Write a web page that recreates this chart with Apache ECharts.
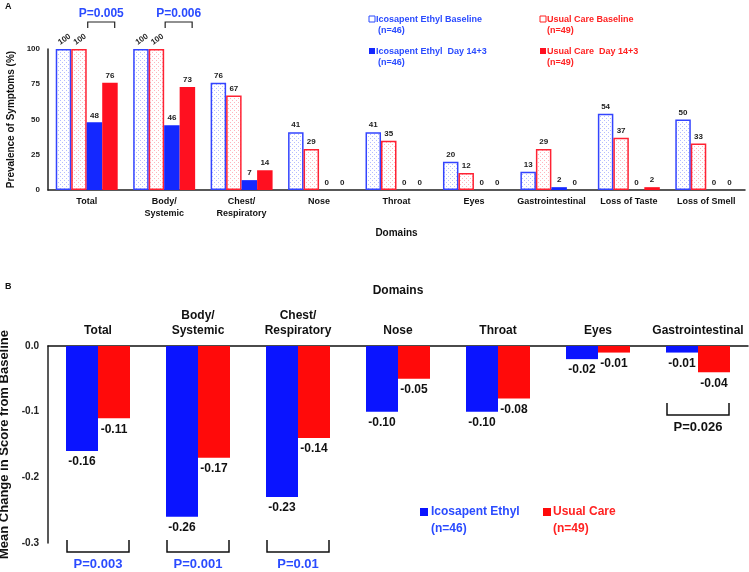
<!DOCTYPE html>
<html>
<head>
<meta charset="utf-8">
<script src="https://cdn.jsdelivr.net/npm/echarts@6/dist/echarts.min.js"></script>
<style>
  html, body { margin: 0; padding: 0; background: #fff; }
  #main { width: 749px; height: 572px; }
</style>
</head>
<body>
<div id="main"></div>
<script>
// panel A: prevalence of symptoms
const categoriesA = ['Total', 'Body/\nSystemic', 'Chest/\nRespiratory', 'Nose', 'Throat', 'Eyes', 'Gastrointestinal', 'Loss of Taste', 'Loss of Smell'];
const ieBaseline = [100, 100, 76, 41, 41, 20, 13, 54, 50];
const ucBaseline = [100, 100, 67, 29, 35, 12, 29, 37, 33];
const ieDay14 = [48, 46, 7, 0, 0, 0, 2, 0, 0];
const ucDay14 = [76, 73, 14, 0, 0, 0, 0, 2, 0];
const pValuesA = [{cat: 0, text: 'P=0.005'}, {cat: 1, text: 'P=0.006'}];

// panel B: mean change in score
const categoriesB = ['Total', 'Body/\nSystemic', 'Chest/\nRespiratory', 'Nose', 'Throat', 'Eyes', 'Gastrointestinal'];
const ieChange = [-0.16, -0.26, -0.23, -0.10, -0.10, -0.02, -0.01];
const ucChange = [-0.11, -0.17, -0.14, -0.05, -0.08, -0.01, -0.04];
const pValuesB = [
    {cat: 0, text: 'P=0.003', color: '#2a4bff', low: true},
    {cat: 1, text: 'P=0.001', color: '#2a4bff', low: true},
    {cat: 2, text: 'P=0.01', color: '#2a4bff', low: true},
    {cat: 6, text: 'P=0.026', color: '#111', low: false}
];

const FONT = '"Liberation Sans", Arial, sans-serif';
const BLUE = '#1428ff';
const RED = '#ff1020';
const TXT_BLUE = '#2a4bff';
const TXT_RED = '#ff2222';

// dotted fill for the baseline bars
function dots(color) {
    const c = document.createElement('canvas');
    c.width = 4; c.height = 4;
    const ctx = c.getContext('2d');
    ctx.fillStyle = '#fff';
    ctx.fillRect(0, 0, 4, 4);
    ctx.fillStyle = color;
    ctx.fillRect(0, 0, 1, 1);
    ctx.fillRect(2, 2, 1, 1);
    return {image: c, repeat: 'repeat'};
}

function withRotated(arr) {
    return arr.map(function (v) {
        if (v === 100) return {value: v, label: {rotate: 35, distance: 4, offset: [4, 0]}};
        return v;
    });
}

const labelA = {show: true, position: 'top', distance: 3, fontSize: 8, fontWeight: 'bold', color: '#222', fontFamily: FONT};
const labelB = {show: true, position: 'bottom', distance: 5, fontSize: 12, fontWeight: 'bold', color: '#111', fontFamily: FONT,
    formatter: function (p) { return p.value.toFixed(2); }};

const chart = echarts.init(document.getElementById('main'));

const option = {
    animation: false,
    backgroundColor: '#fff',
    textStyle: {fontFamily: FONT},
    grid: [
        {left: 48, right: 4, top: 49, height: 141, containLabel: false, outerBoundsMode: 'none'},
        {left: 48, right: 1, top: 346, height: 197, containLabel: false, outerBoundsMode: 'none'}
    ],
    xAxis: [
        {
            type: 'category', gridIndex: 0, data: categoriesA,
            axisLine: {lineStyle: {color: '#222', width: 1.5}},
            axisTick: {show: false},
            axisLabel: {color: '#111', fontSize: 9, fontWeight: 'bold', margin: 6, lineHeight: 12, interval: 0},
            name: 'Domains', nameLocation: 'middle', nameGap: 38,
            nameTextStyle: {fontSize: 10, fontWeight: 'bold', color: '#111'}
        },
        {
            type: 'category', gridIndex: 1, data: categoriesB, position: 'top',
            axisLine: {lineStyle: {color: '#111', width: 1.5}},
            axisTick: {show: false},
            axisLabel: {color: '#111', fontSize: 12, fontWeight: 'bold', margin: 8, lineHeight: 15, interval: 0},
            name: 'Domains', nameLocation: 'middle', nameGap: 49,
            nameTextStyle: {fontSize: 12, fontWeight: 'bold', color: '#111'}
        }
    ],
    yAxis: [
        {
            type: 'value', gridIndex: 0, min: 0, max: 100, interval: 25,
            splitLine: {show: false},
            axisLine: {show: true, lineStyle: {color: '#222', width: 1.5}},
            axisTick: {show: false},
            axisLabel: {color: '#222', fontSize: 8, fontWeight: 'bold', margin: 8},
            name: 'Prevalence of Symptoms (%)', nameLocation: 'middle', nameGap: 32,
            nameTextStyle: {fontSize: 10, fontWeight: 'bold', color: '#111'}
        },
        {
            type: 'value', gridIndex: 1, min: -0.3, max: 0, interval: 0.1,
            splitLine: {show: false},
            axisLine: {show: true, lineStyle: {color: '#222', width: 1.5}},
            axisTick: {show: false},
            axisLabel: {color: '#222', fontSize: 10, fontWeight: 'bold', margin: 9,
                formatter: function (v) { return v.toFixed(1); }},
            name: 'Mean Change in Score from Baseline', nameLocation: 'middle', nameGap: 35,
            nameTextStyle: {fontSize: 13, fontWeight: 'bold', color: '#111'}
        }
    ],
    series: [
        {
            name: 'Icosapent Ethyl Baseline', type: 'bar', xAxisIndex: 0, yAxisIndex: 0,
            data: withRotated(ieBaseline), barGap: 0, barCategoryGap: '20%',
            itemStyle: {color: dots('#b4bcff'), borderColor: '#3344ff', borderWidth: 1.5},
            label: labelA
        },
        {
            name: 'Usual Care Baseline', type: 'bar', xAxisIndex: 0, yAxisIndex: 0,
            data: withRotated(ucBaseline), barGap: 0, barCategoryGap: '20%',
            itemStyle: {color: dots('#ffb4bc'), borderColor: '#ff2233', borderWidth: 1.5},
            label: labelA
        },
        {
            name: 'Icosapent Ethyl Day 14+3', type: 'bar', xAxisIndex: 0, yAxisIndex: 0,
            data: ieDay14, barGap: 0, barCategoryGap: '20%',
            itemStyle: {color: BLUE},
            label: labelA
        },
        {
            name: 'Usual Care Day 14+3', type: 'bar', xAxisIndex: 0, yAxisIndex: 0,
            data: ucDay14, barGap: 0, barCategoryGap: '20%',
            itemStyle: {color: RED},
            label: labelA
        },
        {
            name: 'Icosapent Ethyl', type: 'bar', xAxisIndex: 1, yAxisIndex: 1,
            data: ieChange, barGap: 0, barCategoryGap: '36%',
            itemStyle: {color: '#0a14ff'},
            label: labelB
        },
        {
            name: 'Usual Care', type: 'bar', xAxisIndex: 1, yAxisIndex: 1,
            data: ucChange, barGap: 0, barCategoryGap: '36%',
            itemStyle: {color: '#ff0a0a'},
            label: labelB
        }
    ]
};

chart.setOption(option);

// annotations: panel letters, legends, p-value brackets
function txt(x, y, s, color, size, align) {
    return {
        type: 'text', silent: true,
        style: {x: x, y: y, text: s, fill: color, font: 'bold ' + size + 'px ' + FONT,
            align: align || 'left', textAlign: align || 'left', verticalAlign: 'middle', textVerticalAlign: 'middle'}
    };
}
function box(x, y, s, color, hollow) {
    return {
        type: 'rect', silent: true, shape: {x: x, y: y, width: s, height: s},
        style: hollow ? {fill: '#fff', stroke: color, lineWidth: 1} : {fill: color}
    };
}

const g = [];
g.push(txt(5, 7, 'A', '#111', 9));
g.push(txt(5, 287, 'B', '#111', 9));

// legend A
g.push(box(369, 16, 6, TXT_BLUE, true));
g.push(txt(376, 20, 'Icosapent Ethyl Baseline', TXT_BLUE, 9));
g.push(txt(378, 31, '(n=46)', TXT_BLUE, 9));
g.push(box(369, 48, 6, BLUE, false));
g.push(txt(376, 52, 'Icosapent Ethyl  Day 14+3', TXT_BLUE, 9));
g.push(txt(378, 63, '(n=46)', TXT_BLUE, 9));
g.push(box(540, 16, 6, TXT_RED, true));
g.push(txt(547, 20, 'Usual Care Baseline', TXT_RED, 9));
g.push(txt(547, 31, '(n=49)', TXT_RED, 9));
g.push(box(540, 48, 6, RED, false));
g.push(txt(547, 52, 'Usual Care  Day 14+3', TXT_RED, 9));
g.push(txt(547, 63, '(n=49)', TXT_RED, 9));

// legend B
g.push(box(420, 508, 8, '#0a14ff', false));
g.push(txt(431, 512, 'Icosapent Ethyl', TXT_BLUE, 12));
g.push(txt(431, 529, '(n=46)', TXT_BLUE, 12));
g.push(box(543, 508, 8, '#ff0a0a', false));
g.push(txt(553, 512, 'Usual Care', TXT_RED, 12));
g.push(txt(553, 529, '(n=49)', TXT_RED, 12));

// p-value brackets in panel A
const a0 = chart.convertToPixel({xAxisIndex: 0}, 0);
const bandA = chart.convertToPixel({xAxisIndex: 0}, 1) - a0;
pValuesA.forEach(function (p) {
    const c = chart.convertToPixel({xAxisIndex: 0}, p.cat);
    const x1 = c + 1, x2 = c + 0.4 * bandA - 3;
    g.push({type: 'polyline', silent: true, shape: {points: [[x1, 28], [x1, 22], [x2, 22], [x2, 28]]},
        style: {stroke: '#222', lineWidth: 1.2, fill: null}});
    g.push(txt((x1 + x2) / 2, 14, p.text, TXT_BLUE, 12, 'center'));
});

// p-value brackets in panel B
const b0 = chart.convertToPixel({xAxisIndex: 1}, 0);
const bandB = chart.convertToPixel({xAxisIndex: 1}, 1) - b0;
pValuesB.forEach(function (p) {
    const c = chart.convertToPixel({xAxisIndex: 1}, p.cat);
    const x1 = c - 0.31 * bandB, x2 = c + 0.31 * bandB;
    const top = p.low ? 540 : 403;
    g.push({type: 'polyline', silent: true, shape: {points: [[x1, top], [x1, top + 12], [x2, top + 12], [x2, top]]},
        style: {stroke: '#111', lineWidth: 1.5, fill: null}});
    g.push(txt(c, top + 24, p.text, p.color, 13, 'center'));
});

chart.setOption({graphic: {elements: g}});
</script>
</body>
</html>
